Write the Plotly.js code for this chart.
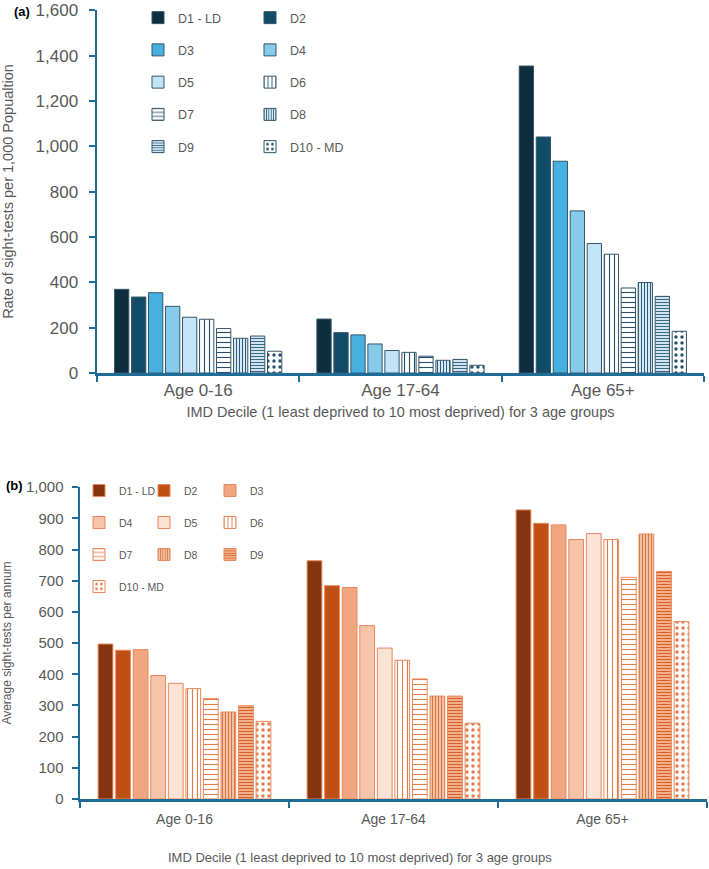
<!DOCTYPE html>
<html>
<head>
<meta charset="utf-8">
<script src="https://cdn.plot.ly/plotly-3.0.1.min.js"></script>
<style>html,body{margin:0;padding:0;background:#fff}#chart{width:709px;height:869px}</style>
</head>
<body>
<div id="chart"></div>
<script>
// ---- data ----
const ageGroups = ['Age 0-16', 'Age 17-64', 'Age 65+'];
const deciles = ['D1 - LD', 'D2', 'D3', 'D4', 'D5', 'D6', 'D7', 'D8', 'D9', 'D10 - MD'];
// panel (a): rate of sight-tests per 1,000 population
const rateAge0_16  = [369, 335, 354, 294, 246, 237, 196, 153, 163, 96];
const rateAge17_64 = [238, 178, 168, 128, 99, 91, 74, 56, 60, 34];
const rateAge65    = [1354, 1041, 934, 715, 571, 524, 375, 399, 338, 184];
// panel (b): average sight-tests per annum
const avgAge0_16  = [497, 477, 479, 396, 371, 354, 322, 279, 299, 249];
const avgAge17_64 = [764, 684, 678, 556, 484, 445, 385, 330, 330, 243];
const avgAge65    = [927, 884, 879, 832, 851, 832, 711, 850, 730, 569];
const xTitle = 'IMD Decile (1 least deprived to 10 most deprived) for 3 age groups';

// ---- styles ----
const FONT = '"Liberation Sans", Arial, sans-serif';
const GREY = '#595959';
const AXIS = '#1f6d96';

const blueStyles = [
  {bg: '#0e2e40', fg: '#0e2e40', shape: ''},
  {bg: '#124b68', fg: '#124b68', shape: ''},
  {bg: '#46b1e1', fg: '#46b1e1', shape: ''},
  {bg: '#87cbec', fg: '#87cbec', shape: ''},
  {bg: '#c3e4f6', fg: '#c3e4f6', shape: ''},
  {bg: '#ffffff', fg: '#24506c', shape: '|', size: 5, sol: 0.22},
  {bg: '#ffffff', fg: '#24506c', shape: '-', size: 5, sol: 0.22},
  {bg: '#d6eaf5', fg: '#2c5a78', shape: '|', size: 3, sol: 0.35},
  {bg: '#d0e5f0', fg: '#3a6783', shape: '-', size: 3, sol: 0.35},
  {bg: '#ffffff', fg: '#24506c', shape: '.', size: 6, sol: 0.25}
];
const orangeStyles = [
  {bg: '#843510', fg: '#843510', shape: ''},
  {bg: '#c04f15', fg: '#c04f15', shape: ''},
  {bg: '#f1a67f', fg: '#f1a67f', shape: ''},
  {bg: '#f6c5a9', fg: '#f6c5a9', shape: ''},
  {bg: '#fbe4d6', fg: '#fbe4d6', shape: ''},
  {bg: '#ffffff', fg: '#e27b48', shape: '|', size: 5, sol: 0.22},
  {bg: '#ffffff', fg: '#e27b48', shape: '-', size: 5, sol: 0.22},
  {bg: '#f4c9b0', fg: '#d9743f', shape: '|', size: 3, sol: 0.4},
  {bg: '#f6b894', fg: '#d8602a', shape: '-', size: 3, sol: 0.4},
  {bg: '#ffffff', fg: '#e27b48', shape: '.', size: 6, sol: 0.25}
];

// legend column assignment
const legendA = ['legend', 'legend2'];             // 2 columns, row-major
const legendB = ['legend3', 'legend4', 'legend5']; // 3 columns, row-major

const traces = [];
deciles.forEach((d, i) => {
  const s = blueStyles[i];
  traces.push({
    type: 'bar', name: d, x: ageGroups,
    y: [rateAge0_16[i], rateAge17_64[i], rateAge65[i]],
    xaxis: 'x', yaxis: 'y',
    legend: legendA[i % 2], legendgroup: 'a' + i,
    marker: {
      color: s.bg,
      line: {color: '#35566b', width: 1},
      pattern: s.shape ? {shape: s.shape, fgcolor: s.fg, bgcolor: s.bg, size: s.size, solidity: s.sol, fillmode: 'replace'} : undefined
    },
    hoverinfo: 'skip'
  });
});
deciles.forEach((d, i) => {
  const s = orangeStyles[i];
  traces.push({
    type: 'bar', name: d, x: ageGroups,
    y: [avgAge0_16[i], avgAge17_64[i], avgAge65[i]],
    xaxis: 'x2', yaxis: 'y2',
    legend: legendB[i % 3], legendgroup: 'b' + i,
    marker: {
      color: s.bg,
      line: {color: '#e8875a', width: 1},
      pattern: s.shape ? {shape: s.shape, fgcolor: s.fg, bgcolor: s.bg, size: s.size, solidity: s.sol, fillmode: 'replace'} : undefined
    },
    hoverinfo: 'skip'
  });
});

const W = 709, H = 869;
const px = v => v / W;
const py = v => 1 - v / H;

function legendAt(x, yTop, size, gap) {
  return {
    x: px(x), y: py(yTop), xanchor: 'left', yanchor: 'top',
    bgcolor: 'rgba(0,0,0,0)', borderwidth: 0,
    font: {family: FONT, size: size, color: GREY},
    tracegroupgap: gap, orientation: 'v'
  };
}

const xAxisCommon = {
  type: 'category', showline: true, linecolor: AXIS, linewidth: 2.5,
  ticks: 'outside', tickson: 'boundaries', ticklen: 6, tickwidth: 2, tickcolor: AXIS,
  showgrid: false, zeroline: false, automargin: false, fixedrange: true
};
const yAxisCommon = {
  showline: true, linecolor: AXIS, linewidth: 2.5,
  ticks: 'outside', ticklen: 6, tickwidth: 2, tickcolor: AXIS,
  showgrid: false, zeroline: false, automargin: false, fixedrange: true,
  tickformat: ',d'
};

const layout = {
  width: W, height: H,
  margin: {l: 0, r: 0, t: 0, b: 0},
  paper_bgcolor: '#ffffff', plot_bgcolor: '#ffffff',
  barmode: 'group', bargap: 0.16, bargroupgap: 0.16,
  showlegend: true,
  xaxis: Object.assign({}, xAxisCommon, {
    domain: [px(97), px(704)], anchor: 'y',
    tickfont: {family: FONT, size: 17, color: GREY},
    title: {text: xTitle, font: {family: FONT, size: 14.5, color: GREY}, standoff: 8}
  }),
  yaxis: Object.assign({}, yAxisCommon, {
    domain: [py(373), py(10)], anchor: 'x',
    range: [0, 1601], dtick: 200,
    tickfont: {family: FONT, size: 17, color: GREY}, ticklabelstandoff: 7,
    title: {text: 'Rate of sight-tests per 1,000 Popualtion',
            font: {family: FONT, size: 14.5, color: GREY}, standoff: 19}
  }),
  xaxis2: Object.assign({}, xAxisCommon, {
    domain: [px(80), px(707)], anchor: 'y2',
    tickfont: {family: FONT, size: 14, color: GREY}, ticklabelstandoff: 6
  }),
  yaxis2: Object.assign({}, yAxisCommon, {
    domain: [py(799), py(487)], anchor: 'x2',
    range: [0, 1000.5], dtick: 100,
    tickfont: {family: FONT, size: 15, color: GREY}, ticklabelstandoff: 5,
    title: {text: 'Average sight-tests per annum',
            font: {family: FONT, size: 12, color: GREY}, standoff: 22}
  }),
  legend:  legendAt(138, 3, 12.5, 13),
  legend2: legendAt(250, 3, 12.5, 13),
  legend3: legendAt(79, 476, 10.5, 13),
  legend4: legendAt(144, 476, 10.5, 13),
  legend5: legendAt(210, 476, 10.5, 13),
  annotations: [
    {text: '<b>(a)</b>', xref: 'paper', yref: 'paper', x: px(12), y: py(2), xanchor: 'left', yanchor: 'top',
     showarrow: false, font: {family: FONT, size: 13, color: '#000'}},
    {text: '<b>(b)</b>', xref: 'paper', yref: 'paper', x: px(4), y: py(476), xanchor: 'left', yanchor: 'top',
     showarrow: false, font: {family: FONT, size: 13, color: '#000'}},
    {text: xTitle, xref: 'paper', yref: 'paper', x: px(360), y: py(857), xanchor: 'center', yanchor: 'middle',
     showarrow: false, font: {family: FONT, size: 13, color: GREY}}
  ]
};

Plotly.newPlot('chart', traces, layout, {staticPlot: true, displayModeBar: false});
</script>
</body>
</html>
